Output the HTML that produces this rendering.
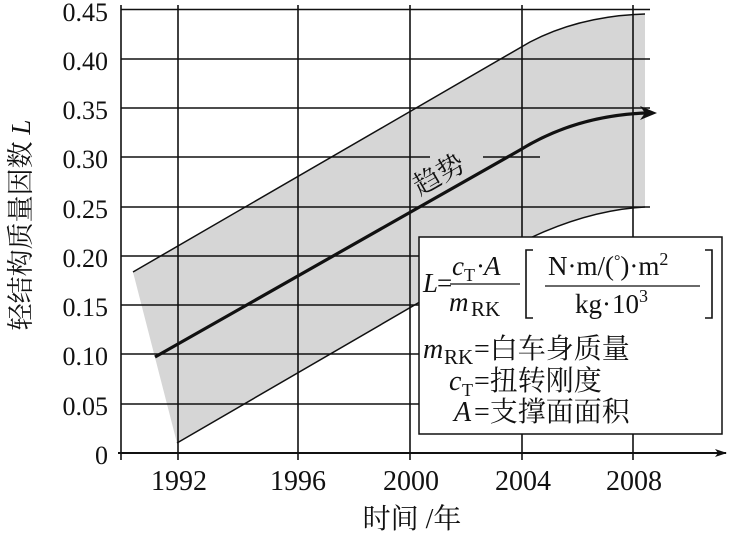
<!DOCTYPE html>
<html><head><meta charset="utf-8"><style>
html,body{margin:0;padding:0;background:#fff;}
svg{display:block;}
text{font-family:"Liberation Serif","Noto Serif CJK SC",serif;fill:#111;}
</style></head><body>
<svg width="730" height="533" viewBox="0 0 730 533" xmlns="http://www.w3.org/2000/svg">
<defs><marker id="ar" markerWidth="12" markerHeight="8" refX="11" refY="4" orient="auto" markerUnits="userSpaceOnUse"><path d="M0,0 L12,4 L0,8 L3,4 Z" fill="#111"/></marker></defs>
<path d="M133,272 L530,42 Q580,16 645,14 L645,207 Q590,210 530,238 L177,443 Z" fill="#d6d6d6"/>
<path d="M133,272 L530,42 Q580,16 645,14" fill="none" stroke="#111" stroke-width="1.5"/>
<path d="M177,443 L530,238 Q590,210 645,207" fill="none" stroke="#111" stroke-width="1.5"/>
<g stroke="#111" stroke-width="1.6">
<line x1="121" y1="9.5" x2="650" y2="9.5"/>
<line x1="121" y1="59" x2="650" y2="59"/>
<line x1="121" y1="108" x2="650" y2="108"/>
<line x1="121" y1="157" x2="430" y2="157"/>
<line x1="483" y1="157" x2="540" y2="157"/>
<line x1="121" y1="207" x2="650" y2="207"/>
<line x1="121" y1="256" x2="419" y2="256"/>
<line x1="121" y1="305" x2="419" y2="305"/>
<line x1="121" y1="354" x2="419" y2="354"/>
<line x1="121" y1="404" x2="419" y2="404"/>
<line x1="121" y1="5" x2="121" y2="460"/>
<line x1="178" y1="5" x2="178" y2="460"/>
<line x1="298" y1="5" x2="298" y2="460"/>
<line x1="410" y1="5" x2="410" y2="460"/>
<line x1="522" y1="5" x2="522" y2="460"/>
<line x1="633" y1="5" x2="633" y2="460"/>
</g>
<line x1="118" y1="453" x2="726" y2="453" stroke="#111" stroke-width="2" marker-end="url(#ar)"/>
<path d="M155,357 L520,150 Q575,116 645,113" fill="none" stroke="#111" stroke-width="3.2"/>
<path d="M640,106 L657,113 L640,120 L645,113 Z" fill="#111"/>
<text x="0" y="0" font-size="27" transform="translate(420,196) rotate(-30)">趋势</text>
<rect x="419" y="237" width="303" height="197" fill="#fff" stroke="#111" stroke-width="1.5"/>
<g font-size="27">
<text x="423" y="292" font-style="italic">L</text><text x="437" y="292">=</text>
<text x="452" y="275" font-style="italic">c</text><text x="464" y="281" font-size="18">T</text><text x="476" y="275">·</text><text x="484" y="275" font-style="italic">A</text>
<line x1="450" y1="284" x2="520" y2="284" stroke="#111" stroke-width="1.3"/>
<text x="449" y="311" font-style="italic">m</text><text x="471" y="316" font-size="21">RK</text>
<path d="M533,250 L526,250 L526,318 L533,318" fill="none" stroke="#111" stroke-width="1.6"/>
<text x="548" y="275">N·m/(<tspan dy="-9" font-size="16">°</tspan><tspan dy="9">)·m</tspan><tspan dy="-10" font-size="18">2</tspan></text>
<line x1="545" y1="286" x2="700" y2="286" stroke="#111" stroke-width="1.3"/>
<text x="575" y="313">kg</text><text x="602" y="313">·</text><text x="612" y="313">10</text><text x="639" y="302" font-size="18">3</text>
<path d="M705,250 L712,250 L712,318 L705,318" fill="none" stroke="#111" stroke-width="1.6"/>
</g>
<g font-size="28">
<text x="423" y="358" font-style="italic">m</text><text x="444" y="364" font-size="21">RK</text><text x="474" y="358">=白车身质量</text>
<text x="449" y="390" font-style="italic">c</text><text x="462" y="396" font-size="18">T</text><text x="474" y="390">=扭转刚度</text>
<text x="454" y="421" font-style="italic">A</text><text x="474" y="421">=支撑面面积</text>
</g>
<g font-size="26" text-anchor="end">
<text x="108" y="21">0.45</text>
<text x="108" y="70">0.40</text>
<text x="108" y="119">0.35</text>
<text x="108" y="168">0.30</text>
<text x="108" y="218">0.25</text>
<text x="108" y="267">0.20</text>
<text x="108" y="316">0.15</text>
<text x="108" y="365">0.10</text>
<text x="108" y="415">0.05</text>
<text x="108" y="464">0</text>
</g>
<g font-size="28" text-anchor="middle">
<text x="179" y="490">1992</text>
<text x="298" y="490">1996</text>
<text x="411" y="490">2000</text>
<text x="523" y="490">2004</text>
<text x="634" y="490">2008</text>
<text x="412" y="528">时间 /年</text>
</g>
<text font-size="27" text-anchor="middle" transform="translate(30,225) rotate(-90)">轻结构质量因数 <tspan font-style="italic">L</tspan></text>
</svg>
</body></html>
